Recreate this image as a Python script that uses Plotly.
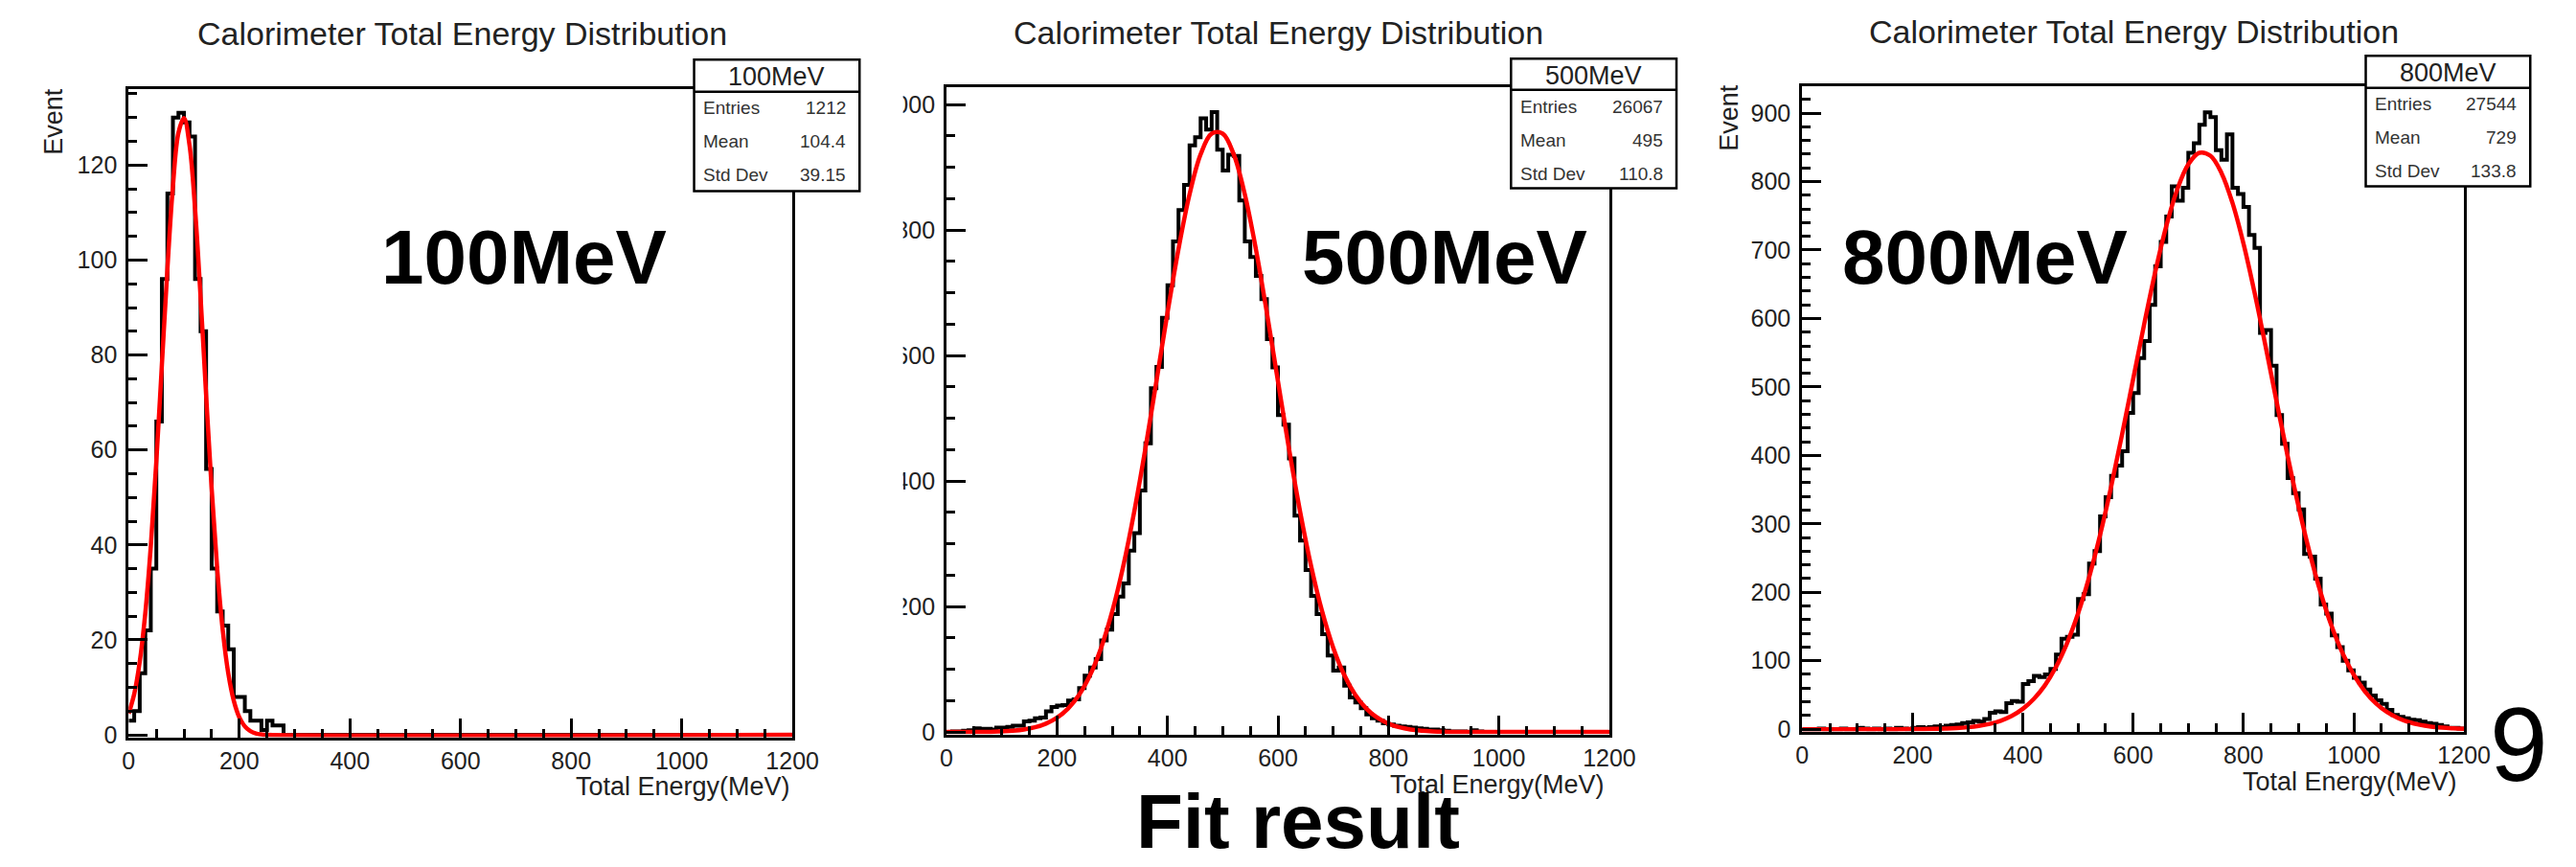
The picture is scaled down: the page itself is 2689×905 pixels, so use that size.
import plotly.graph_objects as go

W, H = 2689, 905
FONT = "Liberation Sans, Arial, Helvetica, sans-serif"

# ---------------- data ----------------
BIN_WIDTH = 10          # MeV
N_BINS = 120
BIN_EDGES = [i * BIN_WIDTH for i in range(N_BINS + 1)]

PANEL_LABELS = ["100MeV", "500MeV", "800MeV"]
ENTRIES = ["1212", "26067", "27544"]
MEANS = ["104.4", "495", "729"]
STD_DEVS = ["39.15", "110.8", "133.8"]

E100_COUNTS = [3, 5, 13, 22, 35, 66, 96, 114, 130, 131, 129, 126, 96, 85, 56, 35, 26, 23, 18, 8,
               8, 5, 3, 3, 1, 3, 2, 2] + [0] * 92

E500_COUNTS = [0, 1, 1, 2, 3, 6, 5, 5, 4, 7,
               7, 8, 10, 10, 17, 18, 22, 23, 33, 40,
               42, 43, 50, 52, 70, 90, 103, 116, 146, 163,
               188, 216, 237, 289, 317, 385, 460, 548, 582, 660,
               712, 782, 832, 872, 935, 948, 978, 960, 988, 928,
               895, 920, 918, 847, 782, 757, 727, 690, 626, 581,
               505, 490, 436, 345, 305, 258, 217, 188, 156, 122,
               98, 103, 74, 55, 47, 38, 28, 22, 18, 14,
               12, 10, 9, 8, 7, 6, 5, 4, 4, 3,
               2, 1, 1, 1, 0, 3, 1] + [0] * 23

E800_COUNTS = [0, 0, 0, 1, 0, 0, 0, 1, 0, 0, 2, 1, 0, 1, 0, 1, 0, 2, 1, 0,
               2, 3, 2, 3, 4, 3, 5, 6, 7, 9,
               10, 12, 11, 15, 24, 26, 25, 38, 41, 40,
               66, 70, 78, 76, 80, 88, 109, 132, 135, 138,
               190, 197, 242, 260, 311, 339, 370, 385, 406, 462,
               491, 542, 567, 620, 676, 712, 749, 793, 772, 791,
               842, 856, 883, 901, 894, 846, 832, 869, 791, 782,
               763, 722, 703, 579, 583, 531, 459, 417, 367, 345,
               321, 256, 252, 220, 182, 169, 137, 120, 100, 86,
               75, 68, 58, 49, 42, 37, 28, 21, 18, 16,
               14, 13, 11, 9, 8, 6, 4, 2, 2, 1]

E100_FIT_X = [0, 10, 20, 30, 40, 50, 60, 70, 80, 90, 100, 110, 120, 130, 140, 150, 160, 170,
              180, 190, 200, 210, 220, 230, 240, 250, 1200]
E100_FIT = [4.5, 8.6, 15.4, 25.6, 39.8, 57.6, 77.8, 98.1, 115.5, 126.8, 129.9, 124.2, 110.8,
            92.2, 71.6, 51.9, 35.1, 22.1, 13.0, 7.2, 3.7, 1.8, 0.8, 0.3, 0.1, 0.0, 0.0]

FIT_X = [20 * i for i in range(61)]
E500_FIT = [0, 0, 0, 0, 0.1, 1.1, 2.2, 4.1, 7.5, 13.3, 22.7, 37.4, 59.4, 91.0, 134.7, 192.3,
            264.8, 352.0, 451.6, 559.0, 668.0, 770.0, 857.0, 920.6, 953.7, 953.7, 920.6, 857.0,
            770.0, 668.0, 559.0, 451.6, 352.0, 264.8, 192.3, 134.7, 91.0, 59.4, 37.4, 22.7,
            13.3, 7.5, 4.1, 2.2, 1.1, 0.5, 0.2, 0.1, 0, 0, 0, 0, 0, 0, 0, 0, 0, 0, 0, 0, 0]
E800_FIT = [0, 0, 0, 0, 0, 0, 0, 0, 0, 0, 0.1, 0.2, 0.5, 0.9, 1.6, 2.8, 4.7, 7.7, 12.4, 19.4,
            29.7, 44.2, 64.1, 90.8, 125.4, 168.7, 221.5, 283.5, 353.9, 430.9, 511.3, 591.7,
            667.8, 734.9, 788.6, 825.2, 842.0, 837.8, 812.8, 769.0, 709.5, 638.2, 559.8, 478.8,
            399.4, 324.9, 257.8, 199.3, 150.3, 110.5, 79.3, 55.4, 37.8, 25.1, 16.3, 10.3, 6.3,
            3.8, 2.2, 1.3, 0.7]

COUNTS = [E100_COUNTS, E500_COUNTS, E800_COUNTS]
FITS = [(E100_FIT_X, E100_FIT), (FIT_X, E500_FIT), (FIT_X, E800_FIT)]

# ---------------- geometry (pixels) ----------------
GEOM = [
    dict(x0=129, x1=831, yb=779, yt=94, ppu=5.017, ydtick=20, yminor=5,
         title=(482, 35), event=(50, 128), xtitle=(831, 831),
         big=(547, 272), box=(727, 63, 902, 202, 97)),
    dict(x0=994, x1=1695, yb=776, yt=92, ppu=0.663, ydtick=200, yminor=50,
         title=(1345, 34), event=None, xtitle=(1692, 829),
         big=(1521, 272), box=(1591, 62, 1766, 199, 95)),
    dict(x0=1899, x1=2599, yb=773, yt=91, ppu=0.7233, ydtick=100, yminor=20,
         title=(2250, 33), event=(1822, 124), xtitle=(2594, 826),
         big=(2092, 272), box=(2495, 59, 2669, 197, 93)),
]


def fx(x):
    return x / W


def fy(y):
    return 1 - y / H


fig = go.Figure()
annotations = []
shapes = []
layout_axes = {}

for i, g in enumerate(GEOM):
    sfx = "" if i == 0 else str(i + 1)
    xa, ya = "x" + sfx, "y" + sfx

    # histogram outline
    counts = COUNTS[i]
    fig.add_trace(go.Scatter(
        x=BIN_EDGES, y=counts + [counts[-1]], mode="lines",
        line=dict(color="black", width=4, shape="hv"),
        xaxis=xa, yaxis=ya, hoverinfo="skip"))
    # gaussian fit
    fxs, fys = FITS[i]
    fig.add_trace(go.Scatter(
        x=fxs, y=fys, mode="lines",
        line=dict(color="#ff0000", width=4.5, shape="spline"),
        xaxis=xa, yaxis=ya, hoverinfo="skip"))

    ymin = -2.5 / g["ppu"]
    ymax = ymin + (g["yb"] - g["yt"]) / g["ppu"]
    tickfont = dict(family=FONT, size=25, color="#222")
    common = dict(showline=True, linecolor="black", linewidth=3, mirror=True,
                  ticks="inside", tickcolor="black", tickwidth=2.5, ticklen=20,
                  showgrid=False, zeroline=False, tickfont=tickfont, fixedrange=True)
    layout_axes["xaxis" + sfx] = dict(
        common, domain=[fx(g["x0"]), fx(g["x1"])], range=[0, 1200],
        anchor=ya, tick0=0, dtick=200,
        minor=dict(ticks="inside", ticklen=9, tickwidth=2.5, tickcolor="black",
                   tick0=0, dtick=50, showgrid=False))
    layout_axes["yaxis" + sfx] = dict(
        common, domain=[fy(g["yb"]), fy(g["yt"])], range=[ymin, ymax],
        anchor=xa, tick0=0, dtick=g["ydtick"], ticklabelstandoff=4,
        minor=dict(ticks="inside", ticklen=9, tickwidth=2.5, tickcolor="black",
                   tick0=0, dtick=g["yminor"], showgrid=False))

    # title
    tx, ty = g["title"]
    annotations.append(dict(x=fx(tx), y=fy(ty), xref="paper", yref="paper",
                            text="Calorimeter Total Energy Distribution", showarrow=False,
                            xanchor="center", yanchor="middle",
                            font=dict(family=FONT, size=34, color="#222")))
    # axis titles
    if g["event"]:
        ex, ey = g["event"]
        annotations.append(dict(x=fx(ex), y=fy(ey), xref="paper", yref="paper",
                                text="Event", showarrow=False, textangle=-90,
                                xanchor="center", yanchor="middle",
                                font=dict(family=FONT, size=27, color="#222")))
    xx, xy = g["xtitle"]
    annotations.append(dict(x=fx(xx), y=fy(xy), xref="paper", yref="paper",
                            text="Total Energy(MeV)", showarrow=False,
                            xanchor="right", yanchor="middle",
                            font=dict(family=FONT, size=27, color="#222")))
    # big label
    bx, by = g["big"]
    annotations.append(dict(x=fx(bx), y=fy(by), xref="paper", yref="paper",
                            text=PANEL_LABELS[i], showarrow=False,
                            xanchor="center", yanchor="middle",
                            font=dict(family=FONT, size=80, color="black", weight="bold")))
    # stats box
    l, t, r, b, d = g["box"]
    shapes.append(dict(type="rect", xref="paper", yref="paper", layer="above",
                       x0=fx(l), x1=fx(r), y0=fy(b), y1=fy(t),
                       fillcolor="white", line=dict(color="black", width=2.5)))
    shapes.append(dict(type="line", xref="paper", yref="paper", layer="above",
                       x0=fx(l), x1=fx(r), y0=fy(d), y1=fy(d),
                       line=dict(color="black", width=2.5)))
    annotations.append(dict(x=fx((l + r) / 2), y=fy((t + d) / 2 + 1), xref="paper", yref="paper",
                            text=PANEL_LABELS[i], showarrow=False,
                            xanchor="center", yanchor="middle",
                            font=dict(family=FONT, size=27, color="#222")))
    rows = [("Entries", ENTRIES[i]), ("Mean", MEANS[i]), ("Std Dev", STD_DEVS[i])]
    for k, (lab, val) in enumerate(rows):
        ry = t + [51, 86, 122][k]
        annotations.append(dict(x=fx(l + 8), y=fy(ry), xref="paper", yref="paper",
                                text=lab, showarrow=False, xanchor="left", yanchor="middle",
                                font=dict(family=FONT, size=19, color="#333")))
        annotations.append(dict(x=fx(r - 12), y=fy(ry), xref="paper", yref="paper",
                                text=val, showarrow=False, xanchor="right", yanchor="middle",
                                font=dict(family=FONT, size=19, color="#333")))

# white mask that clips the left part of the middle panel's y labels
shapes.append(dict(type="rect", xref="paper", yref="paper", layer="above",
                   x0=fx(905), x1=fx(948), y0=fy(795), y1=fy(90),
                   fillcolor="white", line=dict(width=0)))

annotations.append(dict(x=fx(1366), y=fy(868), xref="paper", yref="paper",
                        text="Fit result", showarrow=False, xanchor="center", yanchor="middle",
                        font=dict(family=FONT, size=80, color="black", weight="bold")))
annotations.append(dict(x=fx(2657), y=fy(787), xref="paper", yref="paper",
                        text="9", showarrow=False, xanchor="center", yanchor="middle",
                        font=dict(family=FONT, size=109, color="black")))

fig.update_layout(
    width=W, height=H, margin=dict(l=0, r=0, t=0, b=0, pad=0),
    paper_bgcolor="white", plot_bgcolor="white",
    showlegend=False, hovermode=False,
    annotations=annotations, shapes=shapes,
    **layout_axes)

fig.write_html("out.html", config={"displayModeBar": False})
